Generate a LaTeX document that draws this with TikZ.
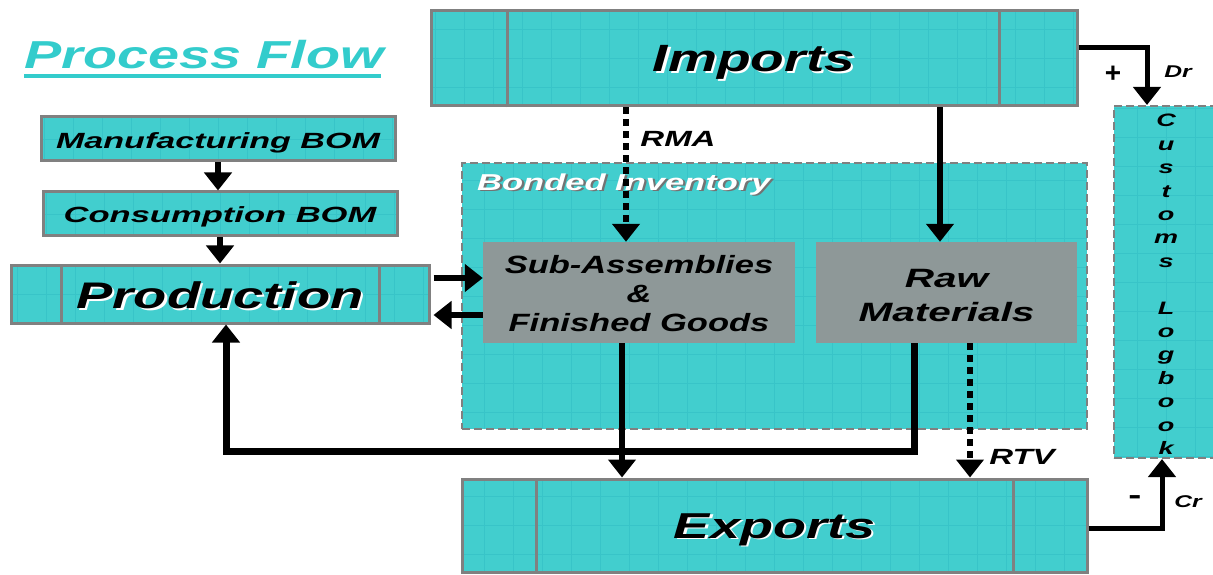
\documentclass[tikz,border=0pt]{standalone}
\usepackage{fontspec}
\setmainfont{Liberation Sans}
\usetikzlibrary{arrows.meta,calc}

\definecolor{panelteal}{RGB}{66,206,206}
\definecolor{gridteal}{RGB}{56,196,200}
\definecolor{titleteal}{RGB}{51,204,204}
\definecolor{framegray}{RGB}{128,128,128}
\definecolor{stockgray}{RGB}{142,152,152}
\definecolor{shadegray}{RGB}{115,115,115}

% horizontally stretched lettering
\newcommand\wide[2]{\scalebox{#1}[1]{#2}}
% text with an offset drop shadow: shadow colour, text colour, text
\newcommand\embossed[3]{\leavevmode\rlap{\hspace{1.6pt}\raisebox{-1.6pt}{\color{#1}#3}}{\color{#2}#3}}
\newcommand\bfi[2]{\fontsize{#1}{#2}\selectfont\bfseries\itshape}

\begin{document}
\begin{tikzpicture}[x=1pt, y=1pt,
  panel/.style={rectangle, inner sep=0pt, fill=panelteal, draw=framegray, line width=3pt,
    path picture={\draw[gridteal, solid, line width=0.8pt]
      (path picture bounding box.south west) grid[step=29pt] (path picture bounding box.north east);}},
  dashpanel/.style={panel, line width=2pt, dash pattern=on 8pt off 4pt},
  stockbox/.style={rectangle, inner sep=0pt, fill=stockgray},
  boxtext/.style={inner sep=0pt},
  flow/.style={line width=6pt, -{Triangle[width=27pt,length=18pt]}},
  dotflow/.style={flow, dash pattern=on 7pt off 5pt},
  divider/.style={framegray, line width=3pt},
  tag/.style={inner sep=0pt, font=\bfi{22}{26}},
  sign/.style={inner sep=0pt, font=\fontsize{28}{30}\selectfont\bfseries},
  small/.style={inner sep=0pt, font=\bfi{17}{20}},
]
\useasboundingbox (0,0) rectangle (1213,574);

% title
\node[anchor=base, inner sep=0pt, text=titleteal, font=\bfi{39}{42}] (title) at (204,505) {\wide{1.43}{Process Flow}};
\draw[titleteal, line width=3.5pt] (24,498) -- (381,498);

% bonded area and its stock boxes
\node[dashpanel, minimum width=625, minimum height=266] (bond) at (774.5,278) {};
\node[anchor=west, inner sep=0pt, font=\bfi{23}{26}] (bondlbl) at (477,389)
  {\wide{1.5}{\embossed{shadegray}{white}{Bonded Inventory}}};
\node[stockbox, minimum width=312, minimum height=101] (sub) at (639,281.5) {};
\node[boxtext, font=\bfi{25}{29}] (subtext) at ([yshift=-4]sub.center)
  {\wide{1.38}{\begin{tabular}{@{}c@{}}Sub-Assemblies\\\&\\Finished Goods\end{tabular}}};
\node[stockbox, minimum width=261, minimum height=101] (raw) at (946.5,281.5) {};
\node[boxtext, font=\bfi{26.5}{34}] (rawtext) at ([yshift=-5]raw.center)
  {\wide{1.53}{\begin{tabular}{@{}c@{}}Raw\\Materials\end{tabular}}};

% imports
\node[panel, minimum width=646, minimum height=95] (imp) at (754,515.5) {};
\node[boxtext, font=\bfi{38}{40}] (imptext) at ([yshift=-5]imp.center)
  {\wide{1.45}{\embossed{white}{black}{Imports}}};
\draw[divider] ($(imp.south west)+(78,0)$) -- ($(imp.north west)+(78,0)$);
\draw[divider] ($(imp.south east)+(-79,0)$) -- ($(imp.north east)+(-79,0)$);

% exports
\node[panel, minimum width=625, minimum height=93] (exp) at (774.5,48.5) {};
\node[boxtext, font=\bfi{36}{40}] (exptext) at ([yshift=-5]exp.center)
  {\wide{1.5}{\embossed{white}{black}{Exports}}};
\draw[divider] ($(exp.south west)+(76,0)$) -- ($(exp.north west)+(76,0)$);
\draw[divider] ($(exp.south east)+(-75,0)$) -- ($(exp.north east)+(-75,0)$);

% BOM chain and production
\node[panel, minimum width=354, minimum height=44] (man) at (218,435) {};
\node[boxtext, font=\bfi{22}{24}] (mantext) at ([yshift=-4]man.center) {\wide{1.55}{Manufacturing BOM}};
\node[panel, minimum width=354, minimum height=44] (con) at (220,360) {};
\node[boxtext, font=\bfi{22}{24}] (context) at ([yshift=-3]con.center) {\wide{1.57}{Consumption BOM}};
\node[panel, minimum width=418, minimum height=58] (prod) at (220,280) {};
\node[boxtext, font=\bfi{37}{40}] (prodtext) at ([yshift=-2]prod.center)
  {\wide{1.47}{\embossed{white}{black}{Production}}};
\draw[divider] ($(prod.south west)+(52,0)$) -- ($(prod.north west)+(52,0)$);
\draw[divider] ($(prod.south east)+(-51,0)$) -- ($(prod.north east)+(-51,0)$);

% customs logbook
\node[dashpanel, minimum width=104, minimum height=352] (cust) at (1166,292) {};
\node[boxtext, font=\bfi{18}{23.4}] (custtext) at ([yshift=-4]cust.center)
  {\wide{1.5}{\begin{tabular}{@{}c@{}}C\\u\\s\\t\\o\\m\\s\\ \\L\\o\\g\\b\\o\\o\\k\end{tabular}}};

% connector columns and corners
\coordinate (rmacol) at (626,0);
\coordinate (rawcol) at (940,0);
\coordinate (outcol) at (622,0);
\coordinate (rtvcol) at (970,0);
\coordinate (loopturn) at (914,123);
\coordinate (loopcorner) at (226,123);

\draw[flow] (man.south) -- (man.south |- con.north);
\draw[flow] (con.south) -- (con.south |- prod.north);
\draw[flow] ($(prod.east)+(3,16)$) -- ($(sub.west)+(0,14.5)$);
\draw[flow] ($(sub.west)+(0,-22.5)$) -- ($(prod.east)+(3,-21)$);

\draw[dotflow] (imp.south -| rmacol) -- (sub.north -| rmacol);
\draw[flow] (imp.south -| rawcol) -- (raw.north -| rawcol);
\draw[flow] (sub.south -| outcol) -- (exp.north -| outcol);
\draw[dotflow] (raw.south -| rtvcol) -- (exp.north -| rtvcol);
\draw[flow, line width=7pt] (raw.south -| loopturn) -- (loopturn) -- (loopcorner) -- (prod.south -| loopcorner);

\draw[flow, line width=5pt] ($(imp.east)+(0,10.5)$) -| ($(cust.north west)+(34,0)$);
\draw[flow, line width=5pt] ($(exp.east)+(0,-2.5)$) -| ($(cust.south west)+(49,0)$);

% labels
\node[tag] (rma) at (678,435) {\wide{1.5}{RMA}};
\node[tag] (rtv) at (1022,117) {\wide{1.5}{RTV}};
\node[sign] (plus) at (1113,500) {+};
\node[small] (dr) at (1178,502) {\wide{1.45}{Dr}};
\node[sign] (minus) at (1135,74) {\wide{1.4}{-}};
\node[small] (cr) at (1188,72) {\wide{1.45}{Cr}};
\end{tikzpicture}
\end{document}
